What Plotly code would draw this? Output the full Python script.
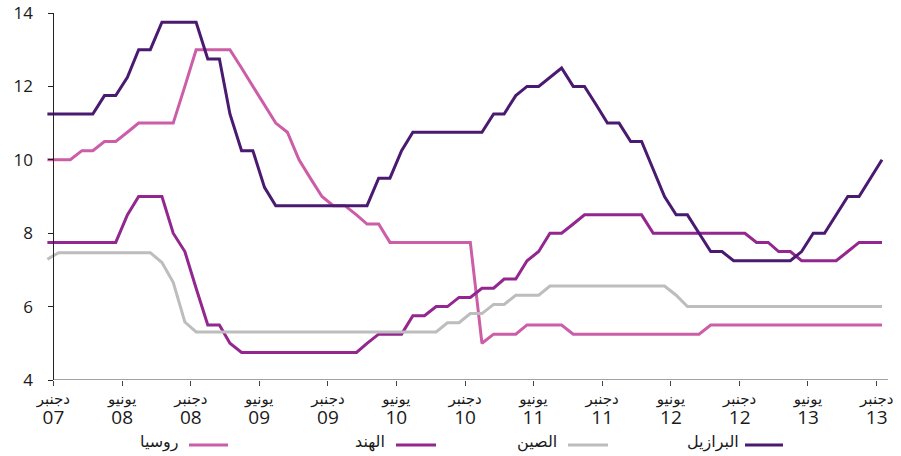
import pandas as pd
import plotly.graph_objects as go

# Monthly observations, Nov 2007 .. Dec 2013 (plotted mid-month)
months = pd.date_range("2007-11-01", periods=74, freq="MS") + pd.Timedelta(days=14)

brazil = ([11.25] * 5 + [11.75] * 2 + [12.25] + [13.0] * 2 + [13.75] * 4 + [12.75] * 2 + [11.25]
          + [10.25] * 2 + [9.25] + [8.75] * 9 + [9.5] * 2 + [10.25] + [10.75] * 7 + [11.25] * 2
          + [11.75] + [12.0] * 2 + [12.25] + [12.5] + [12.0] * 2 + [11.5] + [11.0] * 2 + [10.5] * 2
          + [9.75] + [9.0] + [8.5] * 2 + [8.0] + [7.5] * 2 + [7.25] * 6 + [7.5] + [8.0] * 2 + [8.5]
          + [9.0] * 2 + [9.5] + [10.0])

russia = ([10.0] * 3 + [10.25] * 2 + [10.5] * 2 + [10.75] + [11.0] * 4 + [12.0] + [13.0] * 4
          + [12.5] + [12.0] + [11.5] + [11.0] + [10.75] + [10.0] + [9.5] + [9.0] + [8.75] * 2
          + [8.5] + [8.25] * 2 + [7.75] * 8 + [5.0] + [5.25] * 3 + [5.5] * 4 + [5.25] * 12
          + [5.5] * 16)

india = ([7.75] * 7 + [8.5] + [9.0] * 3 + [8.0] + [7.5] + [6.5] + [5.5] * 2 + [5.0] + [4.75] * 11
         + [5.0] + [5.25] * 3 + [5.75] * 2 + [6.0] * 2 + [6.25] * 2 + [6.5] * 2 + [6.75] * 2
         + [7.25] + [7.5] + [8.0] * 2 + [8.25] + [8.5] * 6 + [8.0] * 9 + [7.75] * 2 + [7.5] * 2
         + [7.25] * 4 + [7.5] + [7.75] * 3)

china = ([7.29] + [7.47] * 9 + [7.20] + [6.66] + [5.58] + [5.31] * 22 + [5.56] * 2 + [5.81] * 2
         + [6.06] * 2 + [6.31] * 3 + [6.56] * 11 + [6.31] + [6.0] * 18)

tick_dates = ["2007-12-01", "2008-06-01", "2008-12-01", "2009-06-01", "2009-12-01",
              "2010-06-01", "2010-12-01", "2011-06-01", "2011-12-01", "2012-06-01",
              "2012-12-01", "2013-06-01", "2013-12-01"]
tick_months = ["دجنبر", "يونيو"] * 6 + ["دجنبر"]
tick_years = ["07", "08", "08", "09", "09", "10", "10", "11", "11", "12", "12", "13", "13"]
y_ticks = [4, 6, 8, 10, 12, 14]

names = ["روسيا", "الهند", "الصين", "البرازيل"]
colors = ["#CC5DA7", "#93278F", "#BDBDBD", "#4A1A70"]
values = [russia, india, china, brazil]

W, H = 901, 456
ML, MR, MT, MB = 44, 13, 13, 76
PW, PH = W - ML - MR, H - MT - MB


def px_x(px):
    return (px - ML) / PW


def px_y(py):
    return (H - MB - py) / PH


fig = go.Figure()
for name, vals, col in zip(names, values, colors):
    fig.add_trace(go.Scatter(x=months, y=vals, name=name, mode="lines",
                             line=dict(color=col, width=3), showlegend=False))

ticktext = [f"{m}<br><span style='font-family:Open Sans;font-size:19px'>{y}</span>"
            for m, y in zip(tick_months, tick_years)]
yaxis_pos = px_x(53.3)

fig.update_layout(
    width=W, height=H,
    margin=dict(l=ML, r=MR, t=MT, b=MB, autoexpand=False),
    paper_bgcolor="white", plot_bgcolor="white",
    font=dict(family="Open Sans, DejaVu Sans", color="#1a1a1a"),
    xaxis=dict(type="date", range=["2007-11-06", "2013-12-31"], tickvals=tick_dates,
               ticktext=ticktext, ticks="outside", ticklen=5, tickcolor="#444",
               showline=False, showgrid=False, zeroline=False, automargin=False,
               tickfont=dict(size=15, family="DejaVu Sans", color="#1a1a1a")),
    yaxis=dict(range=[4, 14], tickvals=y_ticks, ticks="outside", ticklen=5, tickcolor="#222",
               showline=True, linecolor="#222", linewidth=1, showgrid=False, zeroline=False,
               anchor="free", position=yaxis_pos, ticklabelstandoff=12, automargin=False,
               tickfont=dict(size=17, family="Open Sans", color="#1a1a1a")),
)

fig.add_shape(type="line", xref="paper", yref="y", x0=yaxis_pos, x1=1, y0=4, y1=4,
              line=dict(color="#444", width=1))

# Manual right-to-left legend: text to the left of each line sample
legend_items = [(181, 189, 228), (387, 396, 436), (559, 568, 608), (741, 745, 783)]
legend_y = 445
for (text_right, l0, l1), name, col in zip(legend_items, names, colors):
    fig.add_shape(type="line", xref="paper", yref="paper", x0=px_x(l0), x1=px_x(l1),
                  y0=px_y(legend_y), y1=px_y(legend_y), line=dict(color=col, width=3))
    fig.add_annotation(x=px_x(text_right), y=px_y(legend_y - 3), xref="paper", yref="paper",
                       text=name, showarrow=False, xanchor="right", yanchor="middle",
                       font=dict(size=16, family="DejaVu Sans", color="#1a1a1a"))

fig.write_html("out.html", config={"displayModeBar": False},
               post_script="document.body.style.margin='0px';document.body.style.overflow='hidden';")
